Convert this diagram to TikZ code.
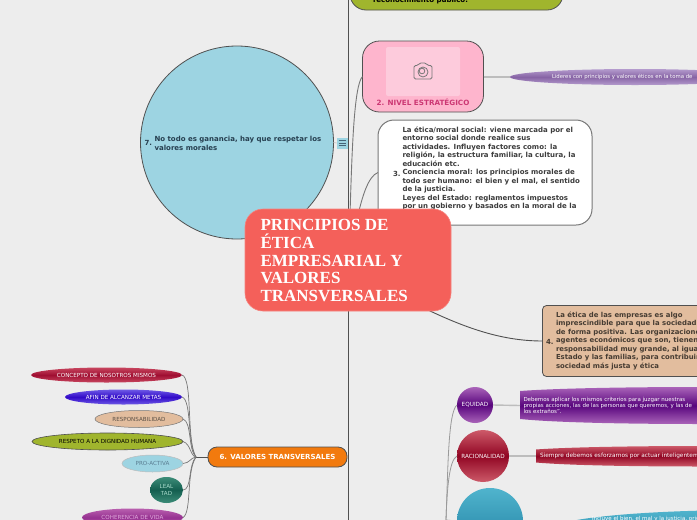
\documentclass[tikz,border=0pt]{standalone}
\usepackage{fontspec}
\setmainfont{DejaVu Sans}
\newfontfamily\titlefont{Liberation Serif}
\usetikzlibrary{shapes.geometric,calc}
\definecolor{bgc}{HTML}{EDEDED}
\definecolor{trunk}{HTML}{505050}
\definecolor{linkc}{HTML}{777777}
\definecolor{softc}{HTML}{BDBDBD}
\definecolor{fanc}{HTML}{9A9A9A}
\definecolor{olivec}{RGB}{160,181,45}
\definecolor{pinkc}{RGB}{254,181,205}
\definecolor{pinkl}{RGB}{253,203,220}
\definecolor{pinkt}{RGB}{204,56,116}
\definecolor{lavl}{RGB}{180,155,205}
\definecolor{lavd}{RGB}{135,100,165}
\definecolor{txtgrey}{RGB}{60,60,60}
\definecolor{bluec}{RGB}{157,212,226}
\definecolor{navyt}{RGB}{38,63,80}
\definecolor{tanc}{RGB}{226,189,158}
\definecolor{tant}{RGB}{70,60,50}
\definecolor{purl}{RGB}{170,100,185}
\definecolor{purd}{RGB}{88,5,125}
\definecolor{redl}{RGB}{205,90,105}
\definecolor{redd}{RGB}{145,5,35}
\definecolor{teall}{RGB}{80,180,205}
\definecolor{teald}{RGB}{30,125,160}
\definecolor{orangec}{RGB}{242,122,14}
\definecolor{crimsl}{RGB}{200,70,95}
\definecolor{crimsd}{RGB}{160,15,50}
\definecolor{indl}{RGB}{110,90,230}
\definecolor{indd}{RGB}{50,10,200}
\definecolor{tangt}{RGB}{90,80,70}
\definecolor{bluet}{RGB}{90,125,145}
\definecolor{greenl}{RGB}{60,140,120}
\definecolor{greend}{RGB}{20,95,80}
\definecolor{greent}{RGB}{170,220,205}
\definecolor{magl}{RGB}{185,95,175}
\definecolor{magd}{RGB}{150,50,145}
\definecolor{magt}{RGB}{225,170,220}
\definecolor{mainc}{RGB}{244,96,90}
\definecolor{mainb}{RGB}{246,130,125}
\definecolor{iconb}{RGB}{70,100,120}
\tikzset{
  x=1pt,y=-1pt,
  every node/.style={inner sep=0pt,outer sep=0pt},
  softlink/.style={draw=softc,line width=1.4pt},
  fanlink/.style={draw=fanc,line width=0.8pt},
  leaflink/.style={draw=linkc,line width=0.7pt},
  mainlink/.style={draw=linkc,line width=0.9pt},
  oval/.style={ellipse,minimum width=#1,font=\fontsize{5.6}{7}\selectfont,align=center},
  lab/.style={font=\fontsize{7}{8.5}\selectfont\bfseries,align=left,text=#1},
  sublab/.style={font=\fontsize{5.5}{6.4}\selectfont,align=left,text=white},
  band/.style n args={2}{top color=#1,bottom color=#1,middle color=#2},
}
\begin{document}
\begin{tikzpicture}
\useasboundingbox (0,0) rectangle (697,520);
\clip (0,0) rectangle (697,520);
\fill[bgc] (0,0) rectangle (697,520);

% trunk
\coordinate (trunktop) at (348.5,0);
\coordinate (trunkbot) at (348.5,520);
\draw[trunk,line width=1.7pt] (trunktop) -- (trunkbot);

% top green node
\node[draw=trunk,line width=0.8pt,fill=olivec,rounded corners=16pt,minimum width=213pt,minimum height=50pt] (green) at (456.5,-15) {};
\node[lab=black,anchor=west] (greentxt) at (373,0) {reconocimiento público.};

% node 2
\node[draw=trunk,line width=0.8pt,fill=pinkc,rounded corners=17pt,minimum width=121pt,minimum height=71pt] (n2) at (423,76.5) {};
\node[fill=pinkl,rounded corners=2pt,minimum width=74pt,minimum height=49pt] (n2pic) at (423,71.5) {};
\node[font=\fontsize{7.2}{8}\selectfont\bfseries,text=pinkt] (n2txt) at (423,102.5) {2. NIVEL ESTRATÉGICO};
% camera icon
\begin{scope}[shift={(423,71.5)},draw=linkc,line width=0.8pt]
 \draw[rounded corners=1.5pt] (-9,-6) -- (-5,-6) -- (-3.5,-8.5) -- (3,-8.5) -- (4.5,-6) -- (9,-6) -- (9,7.5) -- (-9,7.5) -- cycle;
 \draw (0,0.5) circle (5);
 \draw (-1,-0.5) circle (2.8);
\end{scope}
% purple sub ellipse
\node[ellipse,band={lavl}{lavd},minimum width=250pt,minimum height=16pt] (n2a) at (635,77) {};
\node[font=\fontsize{5.35}{6}\selectfont,text=white,anchor=west] (n2atxt) at (552,77) {Lideres con principios y valores éticos en la toma de};
\draw[softlink] (n2.east |- n2a) -- (n2a.west);

% node 3
\node[draw=linkc,line width=1pt,fill=white,rounded corners=16pt,minimum width=214pt,minimum height=105pt] (n3) at (485,172.5) {};
\node[lab=txtgrey,anchor=north west] (n3txt) at (402.5,126.5) {La ética/moral social: viene marcada por el\\entorno social donde realice sus\\actividades. Influyen factores como: la\\religión, la estructura familiar, la cultura, la\\educación etc.\\Conciencia moral: los principios morales de\\todo ser humano: el bien y el mal, el sentido\\de la justicia.\\Leyes del Estado: reglamentos impuestos\\por un gobierno y basados en la moral de la};
\node[lab=txtgrey,anchor=west] (n3num) at (393,173.5) {3.};

% node 7
\node[circle,draw=trunk,line width=0.8pt,fill=bluec,minimum size=193pt] (n7) at (237,142.5) {};
\node[lab=navyt,anchor=west] (n7txt) at (154.5,143.3) {No todo es ganancia, hay que respetar los\\valores morales};
\node[lab=navyt,anchor=west] (n7num) at (144.5,143) {7.};
\node[fill=bluec,minimum size=11pt] (note) at (342,143) {};
\draw[iconb,line width=0.5pt] (338.5,140.5) -- (345.5,140.5) (338.5,143) -- (345.5,143) (338.5,145.5) -- (345.5,145.5);
\draw[softc,line width=0.6pt] (n7.east) -- (note.west);

% node 4
\node[draw=trunk,line width=0.8pt,fill=tanc,rounded corners=4pt,minimum width=190pt,minimum height=71pt,anchor=north west] (n4) at (542.5,305.5) {};
\node[font=\fontsize{6.9}{8.5}\selectfont\bfseries,text=tant,align=left,anchor=north west] (n4txt) at (556,311.8) {La ética de las empresas es algo\\imprescindible para que la sociedad\\de forma positiva. Las organizaciones\\agentes económicos que son, tienen\\responsabilidad muy grande, al igual\\Estado y las familias, para contribuir\\sociedad más justa y ética};
\node[lab=tant,anchor=west] (n4num) at (546,341.5) {4.};

% lower right circles
\node[circle,band={purl}{purd},minimum size=36pt,font=\fontsize{5.7}{6}\selectfont,text=white] (eq) at (475,405) {EQUIDAD};
\node[circle,band={redl}{redd},minimum size=52pt,font=\fontsize{5.7}{6}\selectfont,text=white] (rac) at (483,456) {RACIONALIDAD};
\node[circle,top color=teall,bottom color=teald,minimum size=66pt] (c3) at (490,521) {};

\path[band={purl}{purd}] (520,391) .. controls (560,388) and (640,387) .. (700,387) -- (760,387) -- (760,424) -- (700,424) .. controls (640,424) and (560,423) .. (520,419) -- cycle;
\coordinate (eqbox) at (520,405.5);
\node[sublab,anchor=west] (eqtxt) at (523.5,405.5) {Debemos aplicar los mismos criterios para juzgar nuestras\\propias acciones, las de las personas que queremos, y las de\\los extraños".};
\draw[softlink] (eq.east) -- (eqbox);

\path[band={redl}{redd}] (536,449.5) .. controls (570,447) and (640,446) .. (700,446) -- (760,446) -- (760,466.5) -- (700,466.5) .. controls (640,466.5) and (570,465.5) .. (536,462.5) -- cycle;
\coordinate (racbox) at (536,456);
\node[sublab,anchor=west,font=\fontsize{5.8}{7}\selectfont] (ractxt) at (540,456) {Siempre debemos esforzarnos por actuar inteligentemente};
\draw[softlink] (rac.east) -- (racbox);

\node[ellipse,top color=teall,bottom color=teald,minimum width=400pt,minimum height=40pt] (c3box) at (750,530) {};
\node[sublab,anchor=west] (c3txt) at (592,518.5) {Incluye el bien, el mal y la justicia, origen};
\draw[softlink] (c3.east) -- (c3box.west);

% lower right fan
\coordinate (fanbot) at (446,520);
\draw[fanlink] (fanbot) .. controls (448,470) and (448,412) .. (eq.west);
\draw[fanlink] (fanbot) .. controls (447,490) and (449,460) .. (rac.west);
\draw[fanlink] (fanbot) -- (c3.west);

% left group 6
\node[draw=trunk,line width=0.8pt,fill=orangec,rounded corners=9pt,minimum width=139pt,minimum height=20pt,font=\fontsize{7}{8}\selectfont\bfseries,text=white] (n6) at (277.5,457) {6. VALORES TRANSVERSALES};
\coordinate (hub) at (196,457);
\draw[trunk,line width=1pt] (n6.west) -- (hub);

\node[oval=151pt,minimum height=15pt,band={crimsl}{crimsd},text=white] (v1) at (106.5,375) {CONCEPTO DE NOSOTROS MISMOS};
\node[oval=117pt,minimum height=15pt,band={indl}{indd},text=white] (v2) at (123.5,397) {AFIN DE ALCANZAR METAS};
\node[oval=88pt,minimum height=17pt,draw=linkc,line width=0.5pt,fill=tanc,text=tangt] (v3) at (139,419) {RESPONSABILIDAD};
\node[oval=151pt,minimum height=17pt,draw=trunk,line width=0.6pt,fill=olivec,text=black] (v4) at (107.5,441.5) {RESPETO A LA DIGNIDAD HUMANA};
\node[oval=61pt,minimum height=17pt,draw=softc,line width=0.5pt,fill=bluec,text=bluet] (v5) at (152.5,463.5) {PRO-ACTIVA};
\node[oval=33pt,minimum height=26pt,band={greenl}{greend},text=greent] (v6) at (166.5,490) {LEAL\\TAD};
\node[oval=101pt,minimum height=18pt,band={magl}{magd},text=magt] (v7) at (132.5,517.5) {COHERENCIA DE VIDA};

\draw[leaflink] (hub) .. controls (186,440) and (193,378) .. (v1.east);
\draw[leaflink] (hub) .. controls (187,445) and (192,400) .. (v2.east);
\draw[leaflink] (hub) .. controls (188,450) and (192,422) .. (v3.east);
\draw[leaflink] (hub) .. controls (190,456) and (191,444) .. (v4.east);
\draw[leaflink] (hub) .. controls (190,458) and (190,463) .. (v5.east);
\draw[leaflink] (hub) .. controls (188,465) and (192,490) .. (v6.east);
\draw[leaflink] (hub) .. controls (186,472) and (192,512) .. (v7.east);

% centre links
\coordinate (c2a) at (350,215);
\coordinate (c3a) at (358,215);
\coordinate (c4a) at (428,310);
\draw[mainlink] (c2a) .. controls (352,150) and (354,85) .. (n2.west);
\draw[mainlink] (c3a) .. controls (362,198) and (368,176) .. (n3.west);
\draw[trunk,line width=0.9pt] (c4a) .. controls (470,330) and (505,341) .. (n4.west);

% centre
\node[fill=mainc,draw=mainb,line width=0.6pt,rounded corners=18pt,minimum width=206pt,minimum height=102pt] (main) at (348,260) {};
\node[font=\fontsize{17}{17.6}\selectfont\bfseries\titlefont,text=white,align=left,anchor=west] (maintxt) at (260.5,260.5) {PRINCIPIOS DE\\ÉTICA\\EMPRESARIAL Y\\VALORES\\TRANSVERSALES};
\end{tikzpicture}
\end{document}
